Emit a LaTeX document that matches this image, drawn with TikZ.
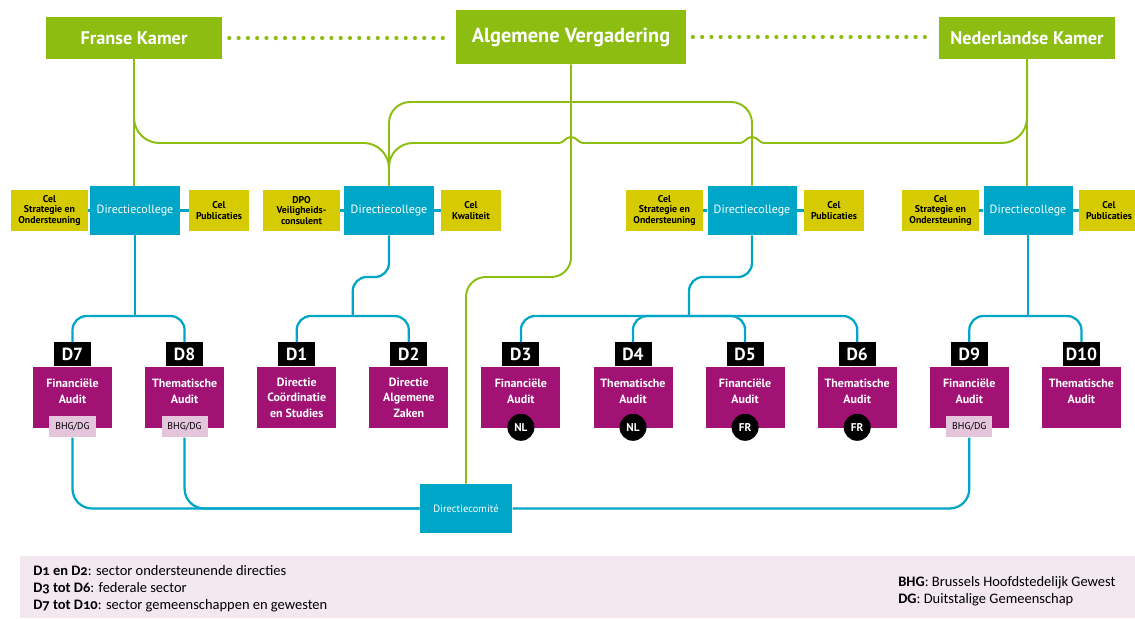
\documentclass[tikz,border=0pt]{standalone}
\usepackage{fontspec}
\setmainfont{PT Sans}
\newfontfamily\legendfont[Numbers=OldStyle]{Carlito}
\usetikzlibrary{calc}

\definecolor{kamergreen}{HTML}{8CBD10}
\definecolor{collegeblue}{HTML}{00A6C8}
\definecolor{celyellow}{HTML}{D5CB00}
\definecolor{auditpurple}{HTML}{A11274}
\definecolor{tagpink}{HTML}{E5C5DB}
\definecolor{legendbg}{HTML}{F3E7F0}

\tikzstyle{kamer}=[fill=kamergreen, text=white, inner sep=0pt, font=\bfseries\fontsize{13}{15}\selectfont]
\tikzstyle{college}=[fill=collegeblue, text=white, minimum width=2.225cm, minimum height=1.225cm, inner sep=0pt, font=\fontsize{8.5}{10}\selectfont]
\tikzstyle{cel}=[fill=celyellow, text=black, minimum height=1cm, align=center, inner sep=0pt, font=\bfseries\fontsize{7}{7.6}\selectfont]
\tikzstyle{audit}=[fill=auditpurple, text=white, minimum width=1.975cm, minimum height=1.525cm, align=center, inner sep=0pt, font=\bfseries\fontsize{8.5}{11}\selectfont]
\tikzstyle{short audit}=[text depth=9pt]
\tikzstyle{dlabel}=[fill=black, text=white, minimum width=0.925cm, minimum height=0.6cm, inner sep=0pt, font=\bfseries\fontsize{12.5}{13}\selectfont]
\tikzstyle{tag}=[fill=tagpink, text=black, minimum width=1.15cm, minimum height=0.525cm, inner sep=0pt, font=\fontsize{7}{8}\selectfont]
\tikzstyle{lang}=[circle, fill=black, text=white, minimum size=0.675cm, inner sep=0pt, font=\bfseries\fontsize{8}{9}\selectfont]
\tikzstyle{green line}=[draw=kamergreen, line width=1.4pt]
\tikzstyle{blue line}=[draw=collegeblue, line width=1.6pt]
\tikzstyle{dotted link}=[draw=kamergreen, line width=3pt, line cap=round, dash pattern=on 0pt off 6.6pt, shorten <=5pt, shorten >=4pt]
\tikzstyle{hop}=[to path={.. controls +(5,0) and +(-6,0) .. ($(\tikztostart)!.5!(\tikztotarget)+(0,-6)$) .. controls +(6,0) and +(-5,0) .. (\tikztotarget)}]
\tikzstyle{legend text}=[anchor=north west, align=left, inner sep=0pt, font=\legendfont\fontsize{10.3}{12.2}\selectfont]

\begin{document}
\begin{tikzpicture}[x=0.025cm, y=-0.025cm]
	\useasboundingbox (0,0) rectangle (1135,618);

	% the three chambers on top
	\node[kamer, minimum width=4.4cm, minimum height=1.05cm] (fk) at (134,38) {Franse Kamer};
	\node[kamer, minimum width=5.725cm, minimum height=1.35cm, font=\bfseries\fontsize{14.5}{16}\selectfont] (av) at (571,37) {Algemene Vergadering};
	\node[kamer, minimum width=4.375cm, minimum height=1.05cm] (nk) at (1027,38) {Nederlandse Kamer};

	% levels used for the bends
	\coordinate (lvlA) at (0,102);
	\coordinate (lvlB) at (0,143);
	\coordinate (lvlC) at (0,277);
	\coordinate (lvlD) at (0,316);

	% colleges and their cells
	\foreach \name/\x in {dc1/135, dc2/389, dc3/752, dc4/1028}
		\node[college] (\name) at (\x,210.5) {Directiecollege};

	\foreach \name/\x/\w/\txt in {cel1/49.5/1.925/{Cel\\Strategie en\\Ondersteuning}, pub1/219/1.5/{Cel\\Publicaties},
								dpo/301.5/1.925/{DPO\\Veiligheids-\\consulent}, kwal/471/1.5/{Cel\\Kwaliteit},
								cel3/664.5/1.925/{Cel\\Strategie en\\Ondersteuning}, pub3/834/1.5/{Cel\\Publicaties},
								cel4/940.5/1.925/{Cel\\Strategie en\\Ondersteuning}, pub4/1109/1.5/{Cel\\Publicaties}}
		\node[cel, minimum width=\w cm] (\name) at (\x,210.5) {\txt};

	\foreach \a/\b in {cel1/dc1, dc1/pub1, dpo/dc2, dc2/kwal, cel3/dc3, dc3/pub3, cel4/dc4, dc4/pub4}
		\path[blue line] (\a) -- (\b);

	% the directorates
	\foreach \n/\i/\opt/\txt in {7/0/short audit/{Financiële\\Audit}, 8/1/short audit/{Thematische\\Audit},
								1/2//{Directie\\Coördinatie\\en Studies}, 2/3//{Directie\\Algemene\\Zaken},
								3/4/short audit/{Financiële\\Audit}, 4/5/short audit/{Thematische\\Audit},
								5/6/short audit/{Financiële\\Audit}, 6/7/short audit/{Thematische\\Audit},
								9/8/short audit/{Financiële\\Audit}, 10/9/short audit/{Thematische\\Audit}}
	{
		\node[audit, \opt] (d\n) at (72.5+112.1*\i,397.5) {\txt};
		\node[dlabel, anchor=south] (lab\n) at (d\n.north) {D\n};
	}

	\foreach \n in {7,8,9}
		\node[tag] (tag\n) at ($(d\n.south)+(0,-1.5)$) {BHG/DG};

	\foreach \n/\lang in {3/NL, 4/NL, 5/FR, 6/FR}
		\node[lang] (lang\n) at ($(d\n.south)+(0,-1)$) {\lang};

	\node[college, minimum width=2.31cm, font=\fontsize{7.5}{9}\selectfont] (dcom) at (466,508.5) {Directiecomité};

	% green lines from the chambers
	\draw[dotted link] (fk.east) -- (fk.east -| av.west);
	\draw[dotted link] (av.east) -- (av.east -| nk.west);
	\draw[green line] (fk.south) -- (fk.south |- dc1.north);
	\draw[green line] (nk.south) -- (nk.south |- dc4.north);
	\draw[green line, rounded corners=18pt] (fk.south) |- (dc2.north |- lvlB) -- (dc2.north);
	\draw[green line, rounded corners=15pt] (dc3.north) |- (dc2.north |- lvlA) -- (dc2.north);
	\draw[green line, rounded corners=14pt] (av.south) |- (dcom.north |- lvlC) -- (dcom.north);

	\coordinate (hop1a) at ($(av.south |- lvlB)+(-12,0)$);
	\coordinate (hop1b) at ($(av.south |- lvlB)+(12,0)$);
	\coordinate (hop2a) at ($(dc3.north |- lvlB)+(-12,0)$);
	\coordinate (hop2b) at ($(dc3.north |- lvlB)+(12,0)$);
	\draw[green line, rounded corners=17pt] (dc2.north) |- (hop1a);
	\draw[green line] (hop1a) to[hop] (hop1b) -- (hop2a) to[hop] (hop2b);
	\draw[green line, rounded corners=18pt] (hop2b) -| (nk.south);

	% blue lines down to the directorates
	\coordinate (fork2) at ($(lab1.north)!.5!(lab2.north)$);
	\coordinate (fork3) at ($(lab3.north)!.5!(lab6.north)$);
	\draw[blue line] (dc1.south) -- (dc1.south |- lvlD);
	\draw[blue line, rounded corners=10pt] (dc2.south) |- (fork2 |- lvlC) -- (fork2 |- lvlD);
	\draw[blue line, rounded corners=10pt] (dc3.south) |- (fork3 |- lvlC) -- (fork3 |- lvlD);
	\draw[blue line] (dc4.south) -- (dc4.south |- lvlD);
	\foreach \a/\b in {7/8, 1/2, 3/6, 4/5, 9/10}
		\draw[blue line, rounded corners=10pt] (lab\a.north) |- (lab\b.north |- lvlD) -- (lab\b.north);

	% directiecomite
	\draw[blue line, rounded corners=14pt] (tag7.south) |- (dcom.west);
	\draw[blue line, rounded corners=14pt] (tag8.south) |- (dcom.west);
	\draw[blue line, rounded corners=14pt] (tag9.south) |- (dcom.east);

	% legend
	\fill[legendbg] (20,556) rectangle (1135,618);
	\node[legend text] (legL) at (33,565) {\textbf{D1 en D2}: sector ondersteunende directies\\
		\textbf{D3 tot D6}: federale sector\\
		\textbf{D7 tot D10}: sector gemeenschappen en gewesten};
	\node[legend text] (legR) at (898,576) {\textbf{BHG}: Brussels Hoofdstedelijk Gewest\\
		\textbf{DG}: Duitstalige Gemeenschap};
\end{tikzpicture}
\end{document}
